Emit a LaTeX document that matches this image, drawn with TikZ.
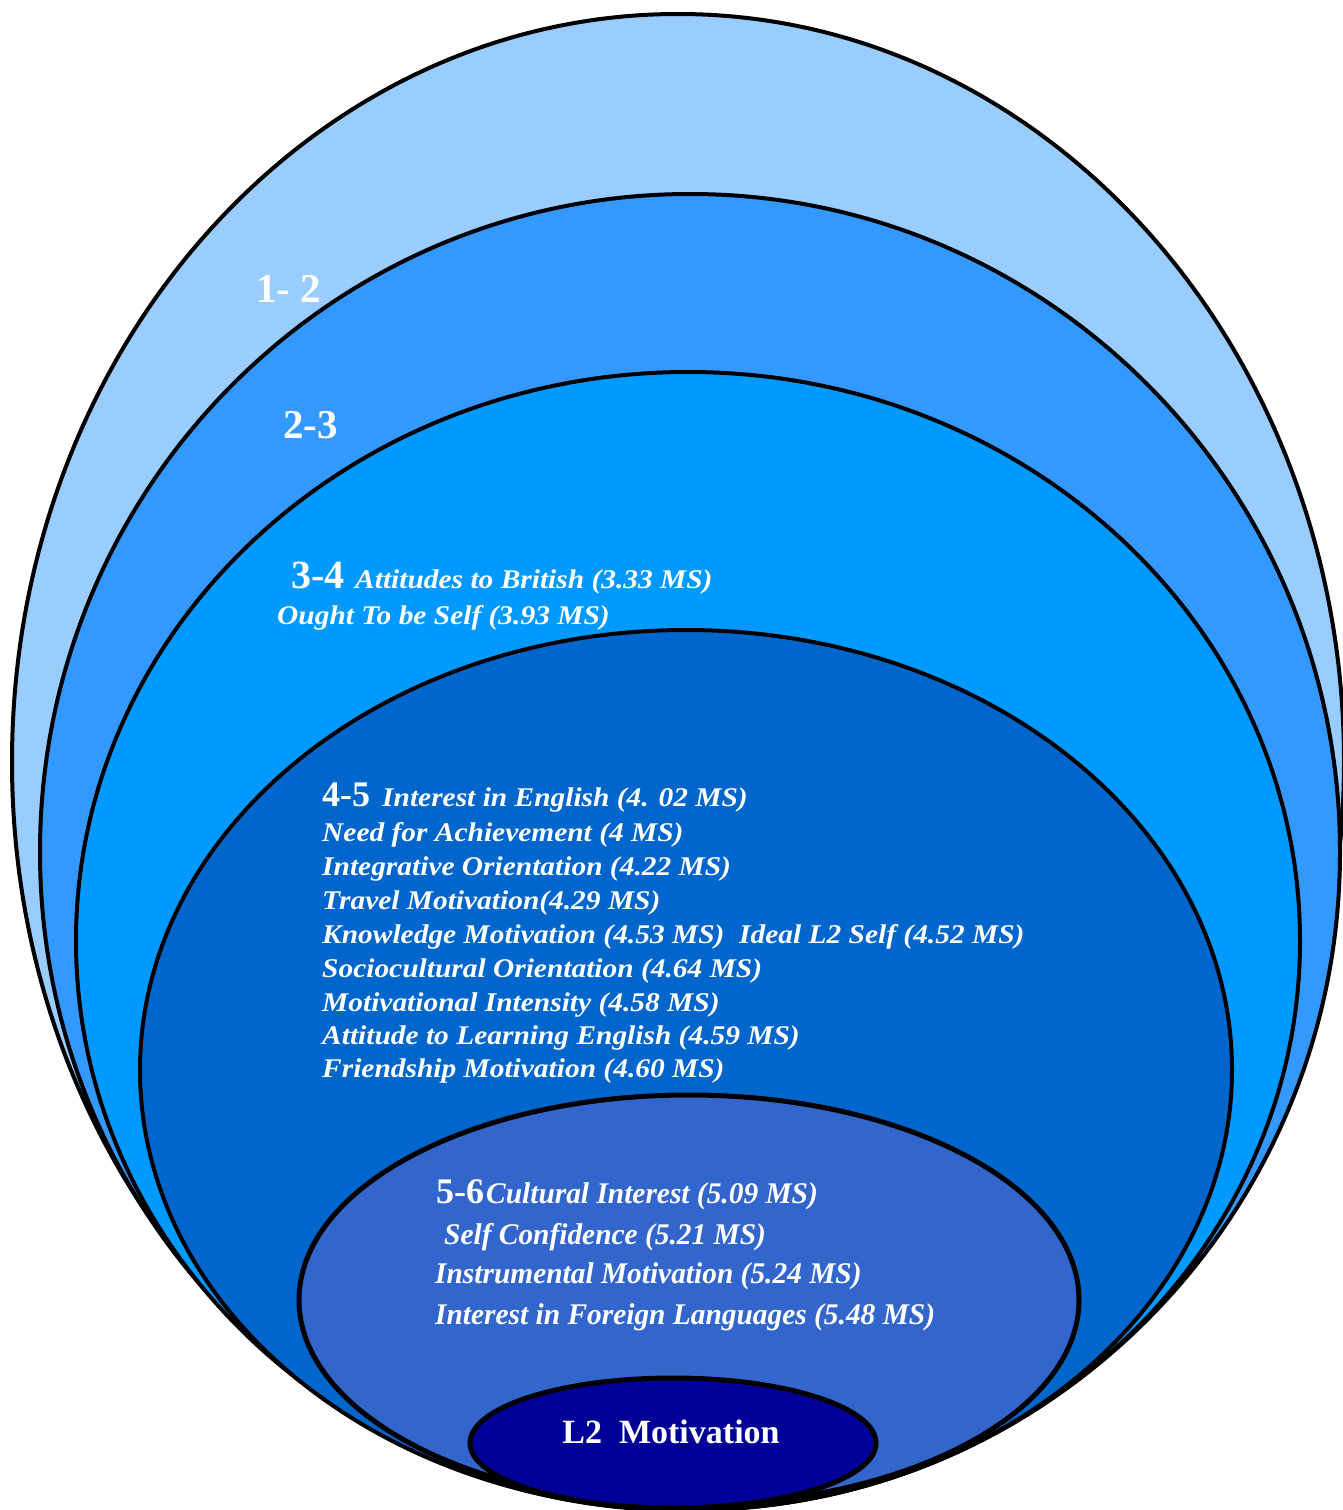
\documentclass[tikz,border=0pt]{standalone}
\usepackage{fontspec}
\setmainfont{Liberation Serif}
\definecolor{cA}{HTML}{99CCFF}
\definecolor{cB}{HTML}{3399FF}
\definecolor{cC}{HTML}{0099FF}
\definecolor{cD}{HTML}{0066CC}
\definecolor{cE}{HTML}{3366CC}
\definecolor{cF}{HTML}{000099}
\newcommand{\wide}[1]{\scalebox{1.09}[1]{#1}}
\newcommand{\narr}[1]{\scalebox{0.98}[1]{#1}}
\tikzset{
  ring/.style={draw=black, line width=4pt},
  ringthick/.style={draw=black, line width=5pt},
  num/.style={text=white, font=\bfseries\fontsize{41}{41}\selectfont, anchor=base west, inner sep=0pt},
  lbl/.style={text=white, font=\bfseries\itshape\fontsize{27}{27}\selectfont, anchor=base west, inner sep=0pt},
  lblc/.style={text=white, font=\bfseries\itshape\fontsize{30}{30}\selectfont, anchor=base west, inner sep=0pt},
  core/.style={text=white, font=\bfseries\fontsize{34}{34}\selectfont, anchor=base, inner sep=0pt},
}
\begin{document}
\begin{tikzpicture}[x=1pt,y=-1pt]
\useasboundingbox (0,0) rectangle (1343,1510);
\clip (0,0) rectangle (1343,1510);
% rings, largest first
\fill[white] (0,0) rectangle (1343,1510);
\draw[ring, fill=cA] (678,762) ellipse [x radius=666pt, y radius=748pt];
\draw[ring, fill=cB] (690,852) ellipse [x radius=650pt, y radius=658pt];
\draw[ring, fill=cC] (688,941) ellipse [x radius=612pt, y radius=569pt];
\draw[ring, fill=cD] (686,1070) ellipse [x radius=546pt, y radius=440pt];
\draw[ringthick, fill=cE] (689,1300) ellipse [x radius=390pt, y radius=205pt];
\draw[ringthick, fill=cF] (673,1443) ellipse [x radius=203pt, y radius=65pt];
% labels
\node[num] (n12) at (256,302) {1- 2};
\node[num] (n23) at (283,438) {2-3};
\node[num,font=\bfseries\fontsize{40}{40}\selectfont] (n34) at (291,588) {3-4};
\node[lbl] (t34a) at (355,588) {\wide{Attitudes to British (3.33 MS)}};
\node[lbl] (t34b) at (277,624) {\wide{Ought To be Self (3.93 MS)}};
\node[num,font=\bfseries\fontsize{36}{36}\selectfont] (n45) at (322,806) {4-5};
\node[lbl] (t45a) at (382,806) {\wide{Interest in English (4. 02 MS)}};
\node[lbl] (t45b) at (322,841) {\wide{Need for Achievement (4 MS)}};
\node[lbl] (t45c) at (322,875) {\wide{Integrative Orientation (4.22 MS)}};
\node[lbl] (t45d) at (322,909) {\wide{Travel Motivation(4.29 MS)}};
\node[lbl] (t45e) at (322,943) {\wide{Knowledge Motivation (4.53 MS)\ \ Ideal L2 Self (4.52 MS)}};
\node[lbl] (t45f) at (322,977) {\wide{Sociocultural Orientation (4.64 MS)}};
\node[lbl] (t45g) at (322,1011) {\wide{Motivational Intensity (4.58 MS)}};
\node[lbl] (t45h) at (322,1044) {\wide{Attitude to Learning English (4.59 MS)}};
\node[lbl] (t45i) at (322,1077) {\wide{Friendship Motivation (4.60 MS)}};
\node[num,font=\bfseries\fontsize{36}{36}\selectfont] (n56) at (436,1203) {5-6};
\node[lblc] (t56a) at (486,1203) {\narr{Cultural Interest (5.09 MS)}};
\node[lblc] (t56b) at (444,1244) {\narr{Self Confidence (5.21 MS)}};
\node[lblc] (t56c) at (435,1283) {\narr{Instrumental Motivation (5.24 MS)}};
\node[lblc] (t56d) at (435,1324) {\narr{Interest in Foreign Languages (5.48 MS)}};
\node[core] (core) at (671,1443) {L2\ \ Motivation};
\end{tikzpicture}
\end{document}
